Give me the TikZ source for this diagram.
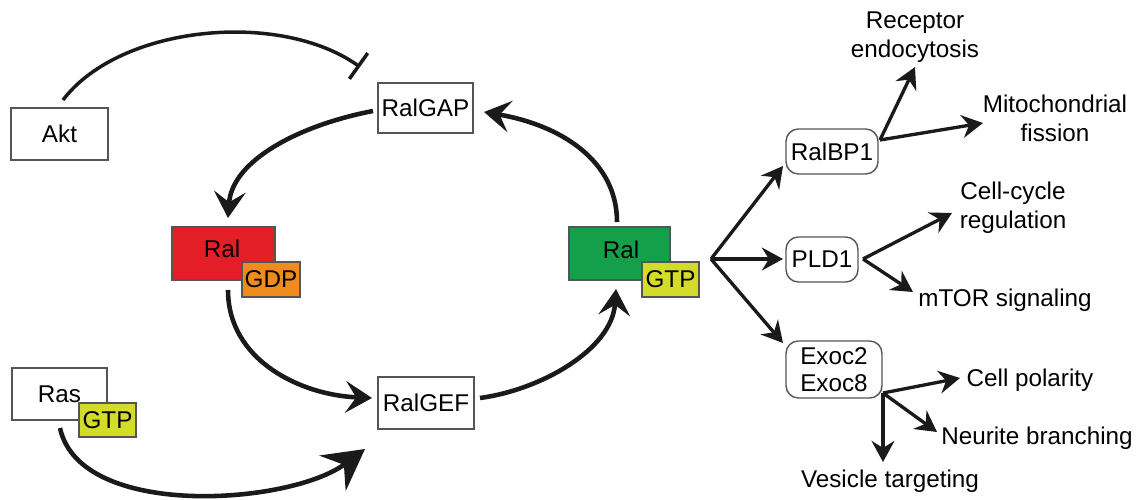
\documentclass[tikz,border=0pt]{standalone}
\usepackage{fontspec}
\setmainfont{Liberation Sans}
\usetikzlibrary{arrows.meta}
\definecolor{ralred}{HTML}{E41E26}
\definecolor{gdporange}{HTML}{F08C1E}
\definecolor{ralgreen}{HTML}{14A04B}
\definecolor{gtpyellow}{HTML}{D4DC2A}
\definecolor{edge}{HTML}{555555}
\definecolor{ink}{HTML}{1A1A1A}
\begin{document}
\begin{tikzpicture}[x=0.02cm,y=-0.02cm,
  font=\fontsize{13.8}{16.5}\selectfont,
  box/.style={draw=edge, line width=0.8pt, inner sep=0pt, fill=white},
  rbox/.style={box, rounded corners=7pt},
  cyc/.style={draw=ink, line width=2.6pt, -{Stealth[length=15pt,width=18pt,inset=6pt]}},
  bigcyc/.style={draw=ink, line width=2.6pt, -{Stealth[length=23pt,width=25pt,inset=8pt]}},
  inh/.style={draw=ink, line width=2pt, -{Bar[width=18pt]}},
  br/.style={draw=ink, line width=1.9pt, -{Stealth[length=12pt,width=13pt,inset=4pt]}},
  lbl/.style={align=center, inner sep=0pt}]
\useasboundingbox (0,0) rectangle (1139,500);

% left boxes
\node[box, minimum width=1.94cm, minimum height=1.04cm] (akt) at (59.5,134) {Akt};
\node[box, minimum width=1.90cm, minimum height=1.04cm] (ras) at (59.5,394) {Ras};
\node[box, fill=gtpyellow, minimum width=1.14cm, minimum height=0.68cm] (rasgtp) at (107.5,420) {GTP};

\node[box, minimum width=1.90cm, minimum height=1.00cm] (ralgap) at (425.5,108) {RalGAP};
\node[box, minimum width=1.92cm, minimum height=1.04cm] (ralgef) at (426,403) {RalGEF};

% Ral-GDP
\node[box, fill=ralred, minimum width=2.06cm, minimum height=1.06cm] (ralgdp) at (223.5,253.5) {};
\node (ralgdptxt) at (222,249) {Ral};
\node[box, fill=gdporange, minimum width=1.16cm, minimum height=0.70cm] (gdp) at (271,279.5) {GDP};

% Ral-GTP
\node[box, fill=ralgreen, minimum width=2.02cm, minimum height=1.06cm] (ralgtp) at (619.5,253.5) {};
\node (ralgtptxt) at (621,250) {Ral};
\node[box, fill=gtpyellow, minimum width=1.14cm, minimum height=0.70cm] (gtp) at (670.5,279.5) {GTP};

% effectors
\node[rbox, minimum width=1.84cm, minimum height=0.90cm] (ralbp1) at (832,151.5) {RalBP1};
\node[rbox, minimum width=1.44cm, minimum height=0.90cm] (pld1) at (822,259.5) {PLD1};
\node[rbox, minimum width=1.92cm, minimum height=1.14cm, align=center,
      font=\fontsize{13.8}{15.3}\selectfont] (exoc) at (834,369.5) {Exoc2\\Exoc8};

% outcome labels
\node[lbl] (recep) at (915,37) {Receptor\\endocytosis};
\node[lbl] (mito) at (1055,118) {Mitochondrial\\fission};
\node[lbl] (cellcyc) at (1013,208) {Cell-cycle\\regulation};
\node[lbl] (mtor) at (1005,300) {mTOR signaling};
\node[lbl] (polar) at (1030,380) {Cell polarity};
\node[lbl] (neur) at (1037,438) {Neurite branching};
\node[lbl] (vesic) at (890,481) {Vesicle targeting};

% connector end points
\coordinate (aktS) at (63,100);
\coordinate (aktE) at (360,67);
\coordinate (gapS) at (373,111);
\coordinate (gdpT) at (228,218);
\coordinate (gdpS) at (228,290);
\coordinate (gefT) at (372,398);
\coordinate (rasS) at (60,428);
\coordinate (rasT) at (365,449);
\coordinate (gefS) at (480,398);
\coordinate (gtpT) at (616,289);
\coordinate (gtpS) at (617,222);
\coordinate (gapT) at (484,112);

\coordinate (b0) at (711,259);
\coordinate (bp1T) at (783,166);
\coordinate (pldT) at (783,259);
\coordinate (excT) at (783,343);
\coordinate (b1) at (880,140);
\coordinate (recT) at (915,67);
\coordinate (mitT) at (983,123);
\coordinate (b2) at (863,259);
\coordinate (ccT) at (952,213);
\coordinate (mtT) at (913,292);
\coordinate (b3) at (883,393);
\coordinate (polT) at (960,378);
\coordinate (neuT) at (937,432);
\coordinate (vesT) at (883,462);

% cycle connectors
\draw[inh] (aktS) .. controls (120,25) and (280,10) .. (aktE);
\draw[cyc] (gapS) .. controls (300,125) and (232,160) .. (gdpT);
\draw[cyc] (gdpS) .. controls (228,360) and (300,395) .. (gefT);
\draw[bigcyc] (rasS) .. controls (80,520) and (290,505) .. (rasT);
\draw[cyc] (gefS) .. controls (540,390) and (612,350) .. (gtpT);
\draw[cyc] (gtpS) .. controls (617,160) and (560,125) .. (gapT);

% effector branches
\draw[br] (b0) -- (bp1T);
\draw[br] (b0) -- (pldT);
\draw[br] (b0) -- (excT);
\draw[br] (b1) -- (recT);
\draw[br] (b1) -- (mitT);
\draw[br] (b2) -- (ccT);
\draw[br] (b2) -- (mtT);
\draw[br] (b3) -- (polT);
\draw[br] (b3) -- (neuT);
\draw[br] (b3) -- (vesT);
\end{tikzpicture}
\end{document}
